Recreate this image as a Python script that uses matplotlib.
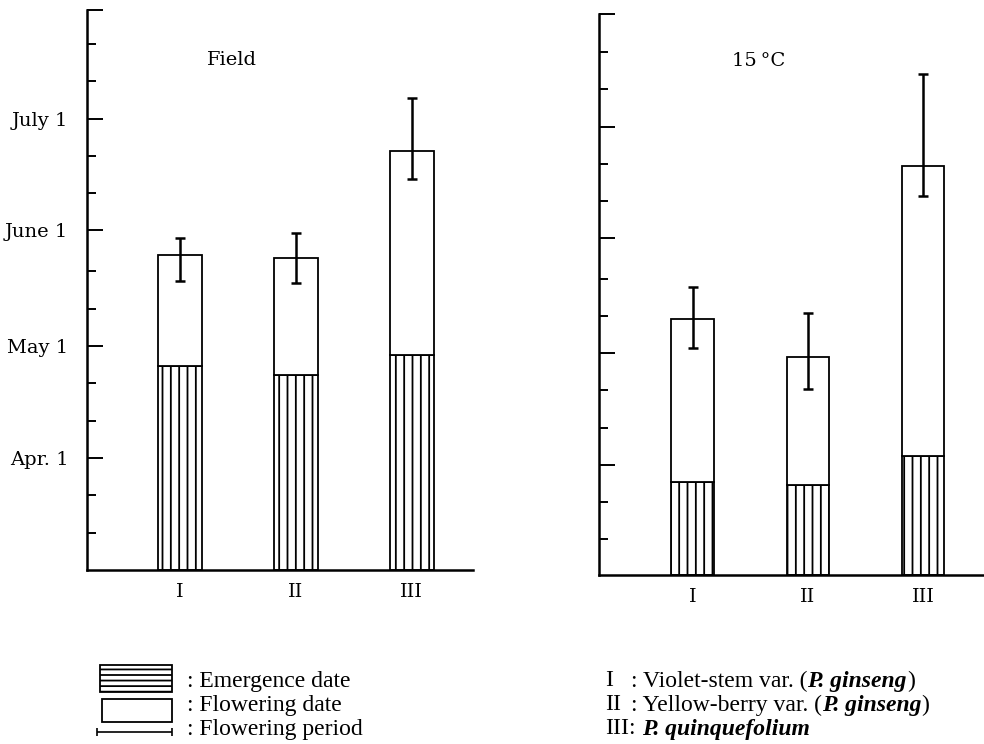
import matplotlib.pyplot as plt
from matplotlib.patches import Rectangle

plt.rcParams['font.family'] = 'DejaVu Serif'
plt.rcParams['hatch.linewidth'] = 1.3
plt.rcParams['hatch.color'] = 'black'

# all dates are days counted from March 1 (Apr. 1 = 31, May 1 = 61 ...)
groups = ['I', 'II', 'III']

field_emergence = [55.6, 53.3, 58.7]
field_flowering = [85.4, 84.6, 113.4]
field_period_lo = [78.5, 78.0, 105.9]
field_period_hi = [90.0, 91.3, 127.4]

c15_emergence = [26.2, 25.6, 33.4]
c15_flowering = [70.1, 59.9, 111.4]
c15_period_lo = [62.4, 51.4, 103.2]
c15_period_hi = [78.9, 71.8, 136.1]

month_days = [31, 61, 92, 122]
month_labels = ['Apr. 1', 'May 1', 'June 1', 'July 1']
minor_days = [11, 21, 41, 51, 71, 81, 102, 112, 132, 142]

W, H = 984, 744
fig = plt.figure(figsize=(W / 100, H / 100), dpi=100)


def px_axes(x0, y0, x1, y1):
    # pixel box (top-left origin) -> figure fraction
    return fig.add_axes([x0 / W, 1 - y1 / H, (x1 - x0) / W, (y1 - y0) / H])


def draw_panel(ax, emergence, flowering, lo, hi, width, ymin, ymax, xlim, labels):
    x = list(range(len(groups)))
    emerg_h = [e - ymin for e in emergence]
    flow_h = [f - e for f, e in zip(flowering, emergence)]
    ax.bar(x, emerg_h, width, bottom=ymin, color='white', edgecolor='black',
           linewidth=1.3, hatch='||', zorder=2)
    ax.bar(x, flow_h, width, bottom=emergence, color='white', edgecolor='black',
           linewidth=1.3, zorder=2)
    yerr = [[f - l for f, l in zip(flowering, lo)], [h - f for f, h in zip(flowering, hi)]]
    ax.errorbar(x, flowering, yerr=yerr, fmt='none', ecolor='black',
                elinewidth=1.8, capsize=3.5, capthick=1.8, zorder=3)

    ax.set_xlim(*xlim)
    ax.set_ylim(ymin, ymax)
    for s in ['top', 'right']:
        ax.spines[s].set_visible(False)
    for s in ['left', 'bottom']:
        ax.spines[s].set_linewidth(1.8)

    ax.set_xticks(x)
    ax.set_xticklabels(groups, fontsize=14)
    ax.tick_params(axis='x', length=0, pad=9)

    ax.set_yticks(month_days + [ymax])
    ax.set_yticklabels(labels + [''] if labels else [''] * (len(month_days) + 1), fontsize=14)
    ax.set_yticks(minor_days, minor=True)
    ax.tick_params(axis='y', which='major', direction='in', length=11.5, width=1.4, pad=13.5)
    ax.tick_params(axis='y', which='minor', direction='in', length=6.7, width=1.4)


# ****** Field ******
ax1 = px_axes(87, 10, 473.3, 570.3)
draw_panel(ax1, field_emergence, field_flowering, field_period_lo, field_period_hi,
           0.38, 0.9, 151.1, (-0.799, 2.531), month_labels)
ax1.text((231.7 - 87) / 386.3, (570.3 - 60.2) / 560.3, 'Field', transform=ax1.transAxes,
         ha='center', va='center', fontsize=14)

# ****** 15 C ******
ax2 = px_axes(599.3, 14, 984, 575)
draw_panel(ax2, c15_emergence, c15_flowering, c15_period_lo, c15_period_hi,
           0.37, 1.3, 152.3, (-0.811, 2.529), None)
ax2.text((759 - 599.3) / 384.7, (575 - 61.3) / 561, '15\u2009°C', transform=ax2.transAxes,
         ha='center', va='center', fontsize=14)

# ****** Legend ******
leg = fig.add_axes([0, 0, 1, 1], zorder=-1)
leg.set_xlim(0, W)
leg.set_ylim(H, 0)
leg.axis('off')

leg.add_patch(Rectangle((100, 665), 72, 27, facecolor='white', edgecolor='black',
                        linewidth=1.3, hatch='---'))
leg.add_patch(Rectangle((102, 699), 70, 23, facecolor='white', edgecolor='black',
                        linewidth=1.3))
leg.errorbar([134.5], [732], xerr=[37.5], fmt='none', ecolor='black',
             elinewidth=1.2, capsize=3, capthick=1.2)

rows = [681, 705, 729]
lfont = dict(family='Liberation Serif', fontsize=17, va='center')
for y, s in zip(rows, ['Emergence date', 'Flowering date', 'Flowering period']):
    leg.text(187, y, ': ' + s, **lfont)

species = [('Violet-stem var. (', 'P. ginseng', ')'),
           ('Yellow-berry var. (', 'P. ginseng', ')'),
           ('', 'P. quinquefolium', '')]
for y, num, (pre, it, post) in zip(rows, groups, species):
    if pre:
        leg.text(605, y, num, **lfont)
        t = leg.text(631, y, ': ' + pre, **lfont)
        t = leg.annotate(it, xy=(1, 0), xycoords=t, va='bottom', ha='left',
                         family='Liberation Serif', fontsize=17,
                         fontstyle='italic', fontweight='bold')
        leg.annotate(post, xy=(1, 0), xycoords=t, va='bottom', ha='left',
                     family='Liberation Serif', fontsize=17)
    else:
        t = leg.text(605, y, num + ':', **lfont)
        leg.annotate(it, xy=(1, 0), xycoords=t, va='bottom', ha='left',
                     xytext=(5, 0), textcoords='offset points',
                     family='Liberation Serif', fontsize=17,
                     fontstyle='italic', fontweight='bold')

fig.savefig('out.png', dpi=100)
